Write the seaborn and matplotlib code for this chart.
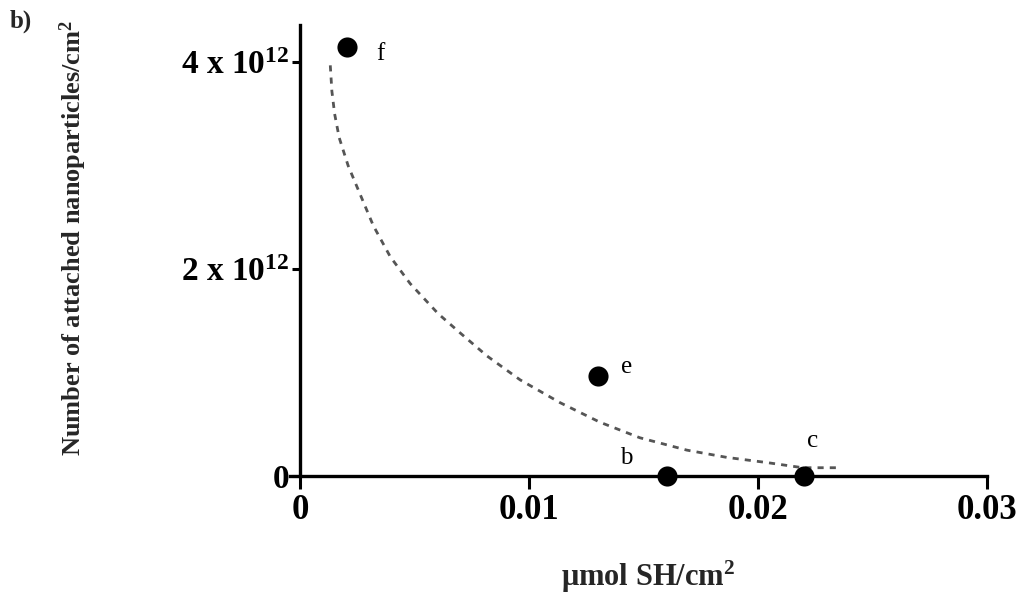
import numpy as np
import pandas as pd
import matplotlib
matplotlib.use("Agg")
import matplotlib.pyplot as plt
import seaborn as sns

# measured samples (label, umol SH/cm2, attached nanoparticles/cm2)
point_labels = ["f", "e", "b", "c"]
point_x = [0.00205, 0.0130, 0.0160, 0.0220]
point_y = [4.15e12, 0.97e12, 0.0, 0.0]

# dashed trend curve
curve_x = [0.00131, 0.00138, 0.00150, 0.00170, 0.00209, 0.00262, 0.00319,
           0.00393, 0.00480, 0.00602, 0.00700, 0.00816, 0.00960, 0.01134,
           0.01309, 0.01483, 0.01689, 0.01863, 0.02038, 0.02195, 0.02343]
curve_y = [3.97e12, 3.72e12, 3.50e12, 3.27e12, 3.00e12, 2.72e12, 2.42e12,
           2.12e12, 1.86e12, 1.57e12, 1.38e12, 1.16e12, 0.93e12, 0.71e12,
           0.52e12, 0.37e12, 0.25e12, 0.18e12, 0.13e12, 0.08e12, 0.08e12]

x_ticks = [0, 0.01, 0.02, 0.03]
x_tick_labels = ["0", "0.01", "0.02", "0.03"]
y_ticks = [0, 2e12, 4e12]
y_tick_labels = ["0", "2 x 10$^{12}$", "4 x 10$^{12}$"]

sns.set_theme(style="white")
plt.rcParams["font.family"] = ["Liberation Serif", "DejaVu Serif"]
plt.rcParams["mathtext.fontset"] = "custom"
plt.rcParams["mathtext.rm"] = "Liberation Serif:bold"
plt.rcParams["mathtext.it"] = "Liberation Serif:bold"
plt.rcParams["mathtext.bf"] = "Liberation Serif:bold"

W, H = 1021, 611
fig = plt.figure(figsize=(W / 100, H / 100), dpi=100)
ax = fig.add_axes([290 / W, (H - 476) / H, (987 - 290) / W, (476 - 25) / H])

curve = pd.DataFrame({"x": curve_x, "y": curve_y})
pts = pd.DataFrame({"x": point_x, "y": point_y, "label": point_labels})

sns.lineplot(data=curve, x="x", y="y", sort=False, ax=ax, color="#555555",
             linewidth=2.0, linestyle=(0, (2.2, 2.2)))
sns.scatterplot(data=pts, x="x", y="y", ax=ax, color="black", s=210,
                edgecolor="black", linewidth=0, clip_on=False, zorder=5)

# point letters, offsets in points from each marker
offsets = {"f": (24, -5), "e": (21, 6), "b": (-29, 13), "c": (6, 25)}
for lab, x, y in zip(point_labels, point_x, point_y):
    ax.annotate(lab, (x, y), xytext=offsets[lab], textcoords="offset points",
                ha="center", va="center", fontsize=18, color="black")

ax.set_xlim(-0.00045, 0.03)
ax.set_ylim(0, 4.36e12)
ax.spines["left"].set_position(("data", 0))
ax.spines["top"].set_visible(False)
ax.spines["right"].set_visible(False)
for side in ["left", "bottom"]:
    ax.spines[side].set_linewidth(2.4)
    ax.spines[side].set_color("black")

ax.set_xticks(x_ticks)
ax.set_xticklabels(x_tick_labels, fontsize=25, fontweight="bold")
ax.set_yticks(y_ticks)
ax.set_yticklabels(y_tick_labels, fontsize=24, fontweight="bold")
ax.tick_params(axis="x", direction="out", length=9, width=2.2, pad=4,
               bottom=True, colors="black")
ax.tick_params(axis="y", direction="out", length=6, width=2.2, pad=2,
               left=True, colors="black")

ax.set_xlabel("μmol SH/cm$^{2}$", fontsize=22, fontweight="bold")
ax.xaxis.set_label_coords((648 - 290) / 697, -(577 - 476) / 451)
ax.set_ylabel("Number of attached nanoparticles/cm$^{2}$", fontsize=19,
              fontweight="bold")
ax.yaxis.set_label_coords(-(290 - 73) / 697, (476 - 238) / 451)
ax.yaxis.label.set_va("center")
ax.xaxis.label.set_va("center")

fig.text(10 / W, 1 - 21 / H, "b)", fontsize=18, fontweight="bold",
         va="center", ha="left")

plt.savefig("out.png", dpi=100)
